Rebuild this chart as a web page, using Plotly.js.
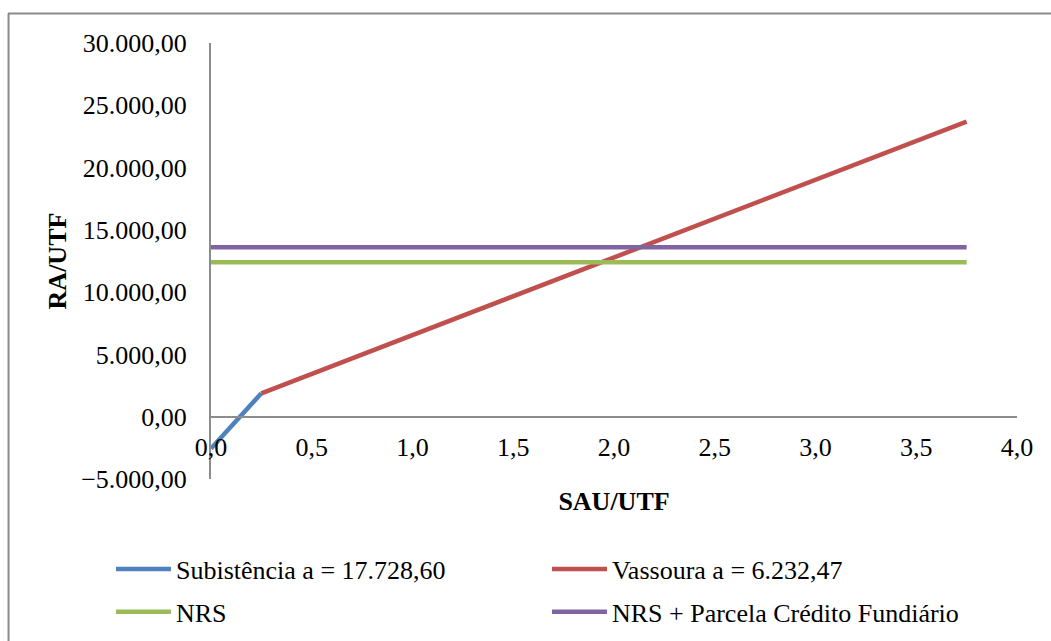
<!DOCTYPE html>
<html>
<head>
<meta charset="utf-8">
<script src="https://cdn.plot.ly/plotly-3.0.1.min.js"></script>
<style>
  html, body { margin: 0; padding: 0; background: #fff; }
  #chart { width: 1051px; height: 641px; }
</style>
</head>
<body>
<div id="chart"></div>
<script>
// Renda agrícola por unidade de trabalho familiar (RA/UTF) em função da SAU/UTF
const subX = [0, 0.25];
const subY = [-2550, 1880];
const vasX = [0.25, 3.75];
const vasY = [1880, 23690];
const nrsX = [0, 3.75];
const nrsY = [12400, 12400];
const nrsPlusX = [0, 3.75];
const nrsPlusY = [13600, 13600];

const seriesNames = [
  'Subistência a = 17.728,60',
  'Vassoura a = 6.232,47',
  'NRS',
  'NRS + Parcela Crédito Fundiário'
];
const seriesColors = ['#4F81BD', '#C0504D', '#9BBB59', '#8064A2'];

const FONT = "'Liberation Serif', 'Times New Roman', serif";

function lineTrace(x, y, i, legendId) {
  return {
    x: x, y: y, type: 'scatter', mode: 'lines',
    name: seriesNames[i],
    line: { color: seriesColors[i], width: 4.5 },
    legend: legendId,
    hoverinfo: 'skip'
  };
}

const data = [
  lineTrace(subX, subY, 0, 'legend'),
  lineTrace(vasX, vasY, 1, 'legend'),
  lineTrace(nrsX, nrsY, 2, 'legend2'),
  lineTrace(nrsPlusX, nrsPlusY, 3, 'legend2')
];

const legendBase = {
  orientation: 'h',
  xanchor: 'left',
  yanchor: 'middle',
  x: -0.1241,
  font: { family: FONT, size: 26, color: '#000' },
  entrywidth: 366,
  entrywidthmode: 'pixels',
  itemwidth: 55,
  bgcolor: 'rgba(0,0,0,0)',
  borderwidth: 0
};

const layout = {
  width: 1051,
  height: 641,
  margin: { l: 211, r: 34, t: 43, b: 162, autoexpand: false },
  paper_bgcolor: '#fff',
  plot_bgcolor: '#fff',
  separators: ',.',
  font: { family: FONT, size: 26, color: '#000' },
  showlegend: true,
  xaxis: {
    range: [0, 4],
    dtick: 0.5,
    tick0: 0,
    tickformat: '.1f',
    showgrid: false,
    zeroline: false,
    showline: true,
    linecolor: '#8c8c8c',
    linewidth: 2,
    anchor: 'free',
    position: 1 / 7,
    ticks: 'outside',
    ticklen: 7,
    tickcolor: 'rgba(0,0,0,0)',
    tickfont: { family: FONT, size: 26, color: '#000' },
    title: {
      text: '<b>SAU/UTF</b>',
      font: { family: FONT, size: 26, color: '#000' },
      standoff: 30
    },
    fixedrange: true
  },
  yaxis: {
    range: [-5000, 30000],
    dtick: 5000,
    tick0: 0,
    tickformat: ',.2f',
    showgrid: false,
    zeroline: false,
    showline: true,
    linecolor: '#8c8c8c',
    linewidth: 2,
    ticks: 'outside',
    ticklen: 17,
    tickcolor: 'rgba(0,0,0,0)',
    tickfont: { family: FONT, size: 26, color: '#000' },
    title: {
      text: '<b>RA/UTF</b>',
      font: { family: FONT, size: 26, color: '#000' },
      standoff: 7
    },
    fixedrange: true
  },
  legend: Object.assign({}, legendBase, { y: -0.2064 }),
  legend2: Object.assign({}, legendBase, { y: -0.3047 }),
  shapes: [
    // chart frame: top and left edges
    { type: 'line', xref: 'paper', yref: 'paper', x0: -0.2519, x1: 1.05, y0: 1.0677, y1: 1.0677,
      line: { color: '#8a8a8a', width: 2 } },
    { type: 'line', xref: 'paper', yref: 'paper', x0: -0.2512, x1: -0.2512, y0: 1.0677, y1: -0.38,
      line: { color: '#8a8a8a', width: 2 } }
  ]
};

Plotly.newPlot('chart', data, layout, { displayModeBar: false, staticPlot: true });
</script>
</body>
</html>
